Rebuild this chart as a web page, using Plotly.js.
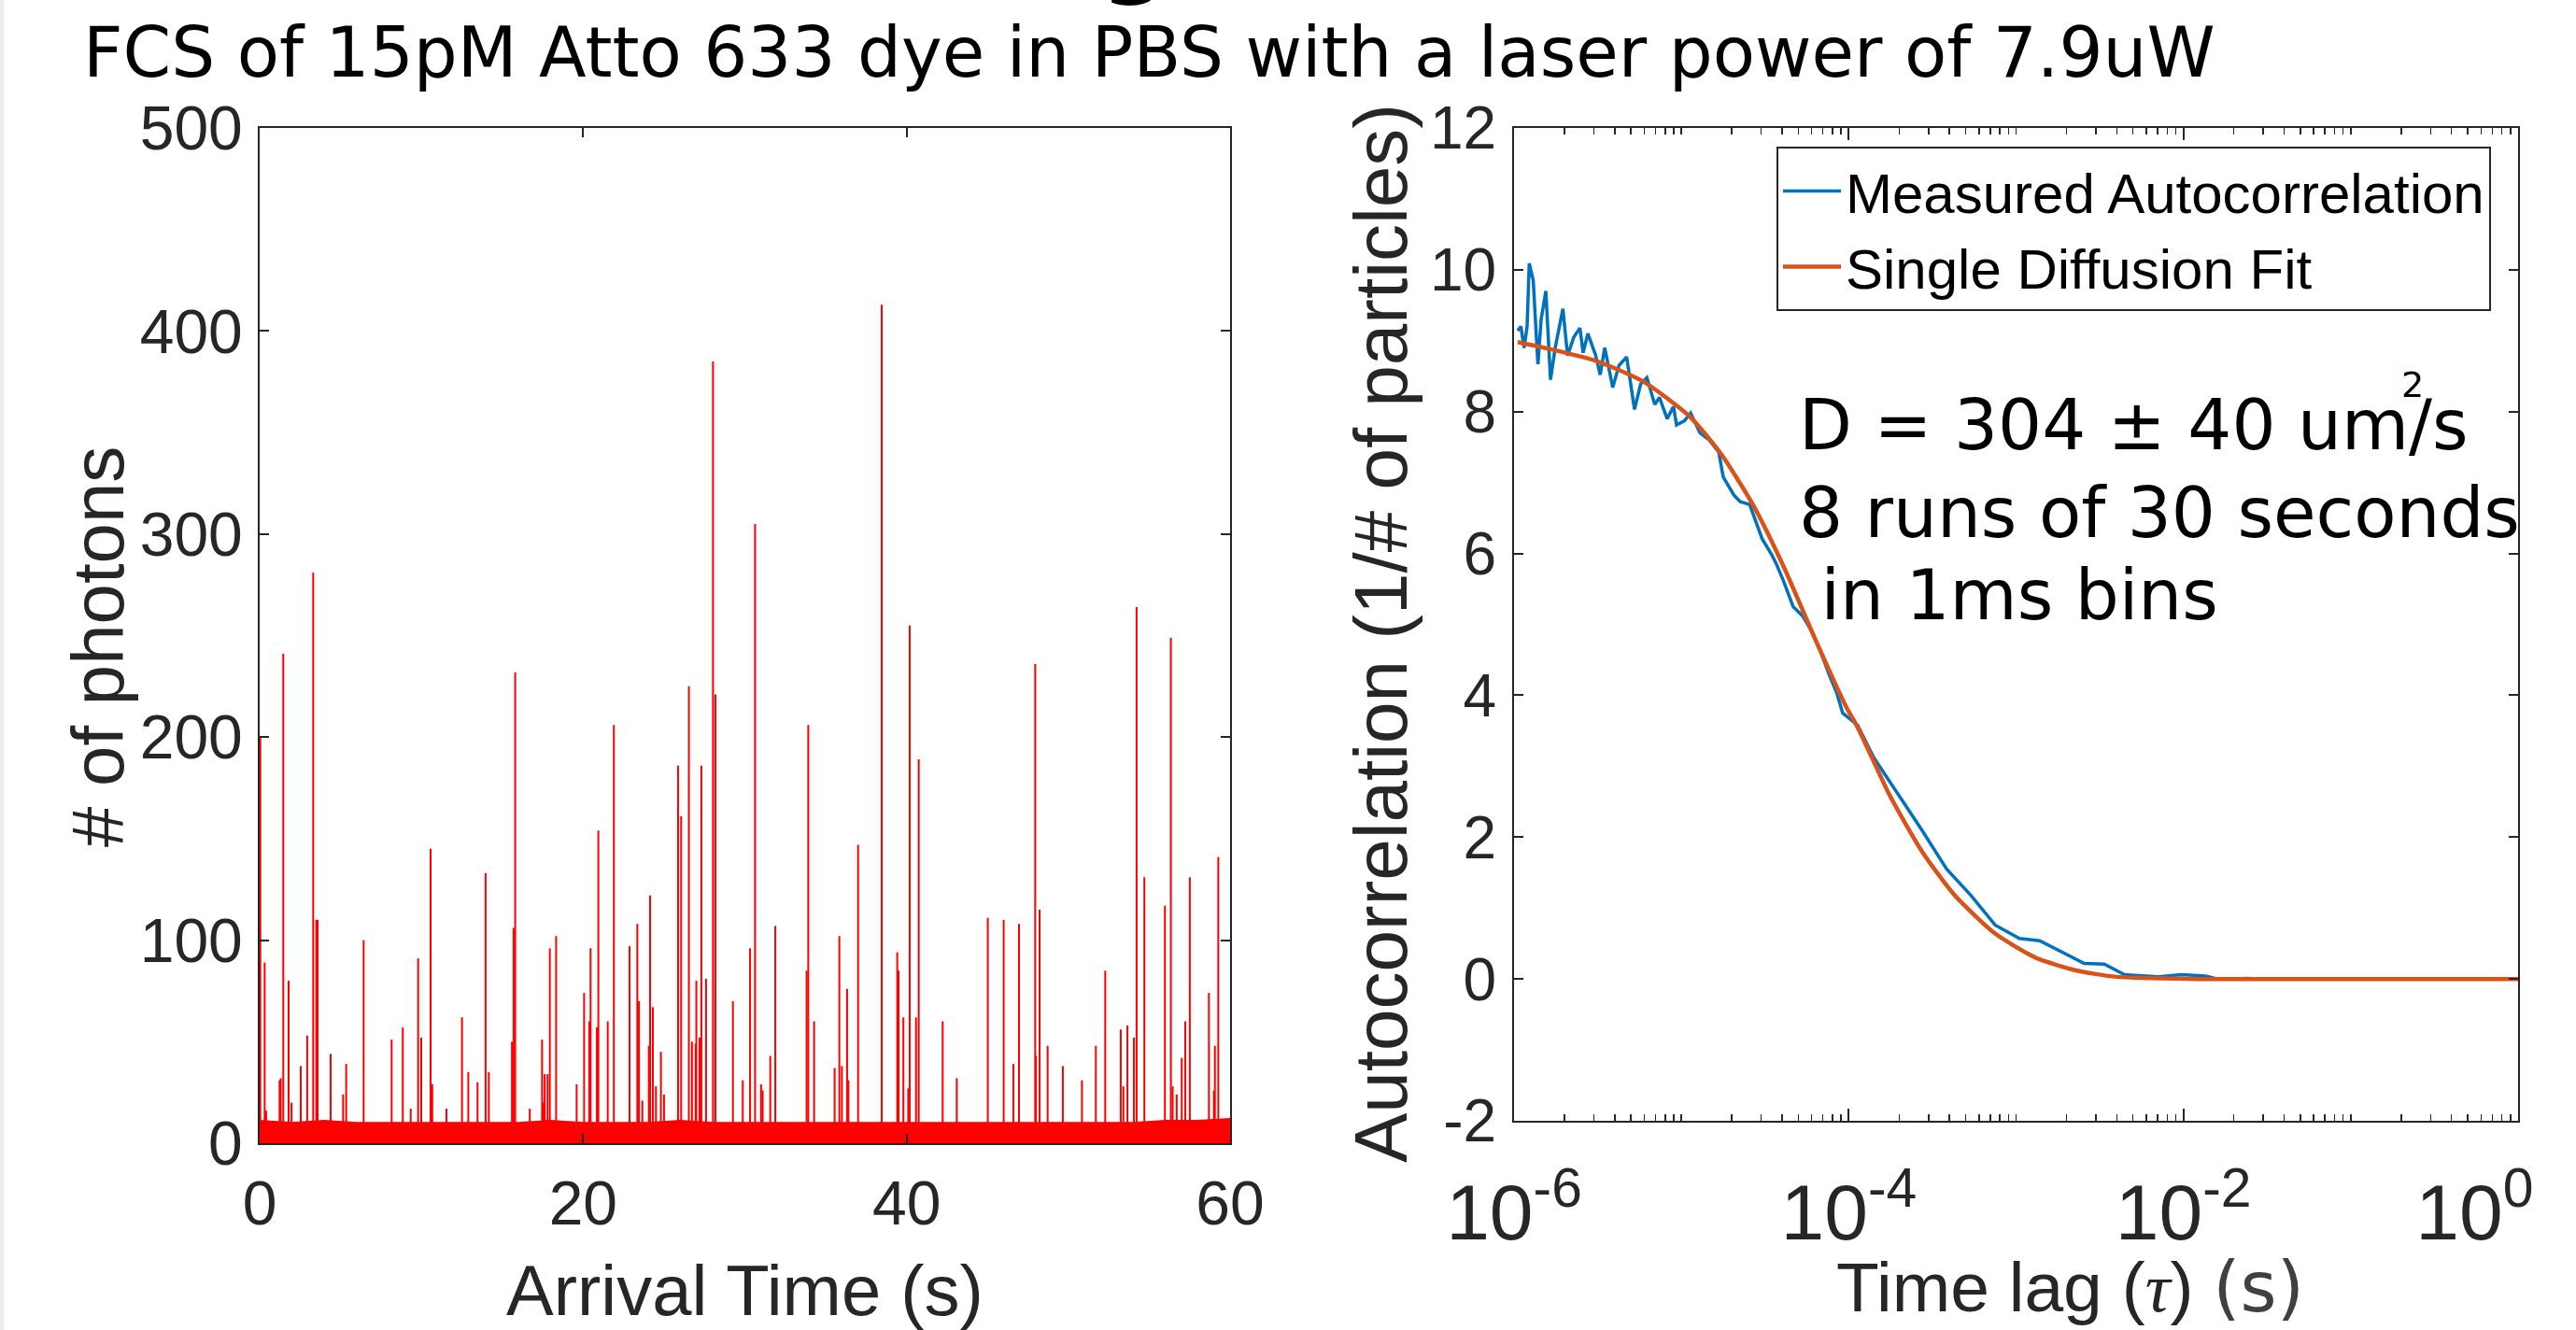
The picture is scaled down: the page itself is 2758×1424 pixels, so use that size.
<!DOCTYPE html>
<html><head><meta charset="utf-8">
<script src="https://cdn.plot.ly/plotly-3.0.1.min.js"></script>
<style>html,body{margin:0;padding:0;background:#fff;overflow:hidden;} #chart{width:2758px;height:1424px;}</style>
</head><body><div id="chart"></div>
<script>
// ---------- Left panel: photon arrival trace (1 ms bins) ----------
const spikeTimes = [0.04,0.31,0.40,1.23,1.30,1.46,1.79,1.97,2.54,2.94,3.31,3.50,3.58,4.39,5.16,5.35,6.43,8.16,8.85,9.34,9.80,9.99,10.57,10.67,11.55,12.51,12.90,13.47,13.97,14.17,15.60,15.70,15.80,16.70,17.46,17.55,17.62,17.80,17.94,18.33,19.60,20.06,20.38,20.46,20.85,20.94,21.52,21.90,22.87,23.35,23.45,23.66,24.06,24.14,24.31,24.50,24.81,25.00,25.87,26.06,26.54,26.73,26.95,27.00,27.20,27.31,27.60,28.03,28.18,29.26,29.87,30.32,30.63,31.00,31.10,31.57,31.88,33.82,33.92,34.28,35.55,35.84,36.00,36.32,36.40,37.00,38.46,39.42,39.50,39.80,40.10,40.19,40.58,40.75,42.23,43.10,45.02,46.00,46.60,46.95,47.95,48.00,48.22,48.72,49.66,50.84,51.70,52.28,53.24,53.40,53.65,54.05,54.22,54.70,55.97,56.34,56.45,56.70,57.01,57.23,57.51,58.69,59.00,59.06,59.27];
const spikeCounts = [200,89,16,31,32,241,80,20,38,53,281,110,110,44,24,39,100,51,57,17,91,52,145,29,17,62,35,30,133,35,50,106,232,17,51,20,34,34,96,102,29,74,60,96,57,154,60,206,97,108,70,21,48,122,67,28,45,24,186,161,225,50,49,80,52,186,81,385,221,70,31,96,305,29,26,43,107,85,206,60,37,102,38,76,31,147,413,94,85,62,27,255,62,189,60,32,111,110,39,108,236,43,115,48,38,31,48,85,56,28,58,52,264,131,117,249,28,24,42,60,131,74,26,48,141];
// background photon level (top of the dense band)
const bgTimes  = [0,2,4,6,8,10,12,14,16,18,20,22,24,26,28,30,32,34,36,38,40,42,44,46,48,50,52,54,56,58,60];
const bgCounts = [11,10,11,10,10,10,10,10,10,11,10,10,10,11,10,10,10,10,10,10,10,10,10,10,10,10,10,10,11,11,12];

// ---------- Right panel: autocorrelation ----------
const tauMeasured = [1.052e-6,1.099e-6,1.148e-6,1.197e-6,1.233e-6,1.303e-6,1.334e-6,1.390e-6,1.452e-6,1.549e-6,1.652e-6,1.762e-6,1.959e-6,2.089e-6,2.275e-6,2.477e-6,2.588e-6,2.761e-6,3.069e-6,3.273e-6,3.483e-6,3.890e-6,4.236e-6,4.710e-6,5.248e-6,5.715e-6,6.223e-6,6.934e-6,7.396e-6,8.222e-6,8.974e-6,9.354e-6,1.042e-5,1.135e-5,1.291e-5,1.466e-5,1.671e-5,1.778e-5,2.065e-5,2.249e-5,2.559e-5,3.034e-5,3.451e-5,3.681e-5,4.093e-5,4.656e-5,5.297e-5,6.026e-5,6.855e-5,7.638e-5,8.492e-5,9.2e-5,1.130e-4,1.413e-4,2.084e-4,2.754e-4,3.846e-4,5.370e-4,7.499e-4,1.047e-3,1.384e-3,2.042e-3,2.553e-3,3.365e-3,4.446e-3,6.950e-3,9.705e-3,1.355e-2,1.600e-2,2.495e-2];
const gMeasured = [9.14,9.2,8.9,9.2,10.09,9.85,9.4,8.67,9.3,9.7,8.45,8.9,9.45,8.79,9.05,9.18,8.83,9.1,8.8,8.52,8.9,8.34,8.65,8.77,8.03,8.39,8.48,8.1,8.2,7.9,8.07,7.81,7.87,7.98,7.7,7.6,7.43,7.08,6.82,6.73,6.69,6.21,5.99,5.86,5.6,5.25,5.12,4.9,4.59,4.29,4.03,3.75,3.58,3.12,2.52,2.09,1.55,1.18,0.76,0.57,0.54,0.33,0.22,0.21,0.06,0.03,0.06,0.04,0.0,0.01];
const tauFit = [1.052e-6,1.652e-6,3.141e-6,5.970e-6,1.135e-5,1.742e-5,2.673e-5,4.093e-5,6.281e-5,9.638e-5,1.130e-4,1.766e-4,2.754e-4,4.295e-4,7.499e-4,1.309e-3,2.280e-3,3.981e-3,1.211e-2,0.1,1];
const gFit = [8.98,8.88,8.71,8.42,7.92,7.39,6.69,5.81,4.80,3.84,3.55,2.58,1.79,1.18,0.64,0.30,0.12,0.03,0.0,0.0,0.0];

// ---------- Tick labels ----------
const leftXTicks = [0,20,40,60];
const leftYTicks = [0,100,200,300,400,500];
const rightXTicks = [1e-6,1e-4,1e-2,1];
const rightXTickText = ['10<sup>-6</sup>','10<sup>-4</sup>','10<sup>-2</sup>','10<sup>0</sup>\u00a0\u00a0\u00a0\u00a0'];
const rightYTicks = [-2,0,2,4,6,8,10,12];

// minor log ticks (decade sub-divisions)
const minorTicks = [];
for (let k = -6; k < 0; k++) {
  for (let m = 1; m <= 9; m++) {
    if (m === 1 && (k % 2 === 0)) continue;
    minorTicks.push(m * Math.pow(10, k));
  }
}

// spikes as vertical strokes from 0
const spX = [], spY = [];
spikeTimes.forEach((t, i) => { spX.push(t, t, null); spY.push(0, spikeCounts[i], null); });

const RED = '#FF0000', BLUE = '#0072BD', ORANGE = '#D95319', AX = '#262626';
const SANS = 'Liberation Sans, Arial, Helvetica, sans-serif';
const DJ = 'DejaVu Sans, sans-serif';

const traces = [
  {x: bgTimes, y: bgCounts, type: 'scatter', mode: 'lines', fill: 'tozeroy',
   fillcolor: RED, line: {color: RED, width: 2}, xaxis: 'x', yaxis: 'y', showlegend: false, hoverinfo: 'skip'},
  {x: spX, y: spY, type: 'scatter', mode: 'lines', line: {color: RED, width: 2},
   xaxis: 'x', yaxis: 'y', showlegend: false, connectgaps: false},
  {x: tauMeasured, y: gMeasured, type: 'scatter', mode: 'lines', name: 'Measured Autocorrelation',
   line: {color: BLUE, width: 3.5}, xaxis: 'x2', yaxis: 'y2'},
  {x: tauFit, y: gFit, type: 'scatter', mode: 'lines', name: 'Single Diffusion Fit',
   line: {color: ORANGE, width: 4.5, shape: 'spline', smoothing: 0.6}, xaxis: 'x2', yaxis: 'y2'}
];

const axisBase = {
  showline: true, linecolor: AX, linewidth: 2, mirror: 'ticks',
  ticks: 'inside', ticklen: 10, tickwidth: 2, tickcolor: AX,
  showgrid: false, zeroline: false, fixedrange: true,
  tickfont: {family: SANS, size: 66, color: AX}
};

const W = 2758, H = 1424;
const M = {l: 278, r: 62, t: 137, b: 200};
const PW = W - M.l - M.r, PH = H - M.t - M.b;
const px = X => (X - M.l) / PW;          // page x -> paper x
const py = Y => 1 - (Y - M.t) / PH;      // page y -> paper y
const NB = '\u00a0';

const layout = {
  width: W, height: H, margin: M,
  paper_bgcolor: '#ffffff', plot_bgcolor: '#ffffff',
  showlegend: true,
  title: {text: 'FCS of 15pM Atto 633 dye in PBS with a laser power of 7.9uW',
          font: {family: DJ, size: 74, color: '#000'},
          x: 89 / W, xanchor: 'left', xref: 'container',
          y: 1 - 56 / H, yanchor: 'middle', yref: 'container'},
  xaxis: Object.assign({}, axisBase, {
    domain: [0, px(1317)], range: [0, 60], tickmode: 'array', tickvals: leftXTicks,
    anchor: 'y', ticklabelstandoff: 6,
    title: {text: 'Arrival Time (s)', font: {family: SANS, size: 76, color: AX}, standoff: 56}
  }),
  yaxis: Object.assign({}, axisBase, {
    domain: [0, 1], range: [0, 500], tickmode: 'array', tickvals: leftYTicks,
    anchor: 'x', ticklabelstandoff: 3
  }),
  xaxis2: Object.assign({}, axisBase, {
    type: 'log', domain: [px(1621), 1], range: [-6, 0], anchor: 'y2',
    tickmode: 'array', tickvals: rightXTicks, ticktext: rightXTickText, ticklen: 13,
    tickfont: {family: SANS, size: 84, color: AX}, ticklabelstandoff: 24, ticklabeloverflow: 'allow',
    minor: {tickmode: 'array', tickvals: minorTicks, ticks: 'inside', ticklen: 7, tickwidth: 1.5, tickcolor: AX, showgrid: false}
  }),
  yaxis2: Object.assign({}, axisBase, {
    domain: [1 - (1200 - M.t) / PH, 1], range: [-2, 12], anchor: 'x2',
    tickmode: 'array', tickvals: rightYTicks, ticktext: rightYTicks.map(String),
    tickfont: {family: SANS, size: 64, color: AX}, ticklabelstandoff: 4
  }),
  legend: {x: px(1902), y: py(157), xanchor: 'left', yanchor: 'top', itemwidth: 62,
           bgcolor: '#ffffff', bordercolor: AX, borderwidth: 2,
           font: {family: SANS, size: 60, color: '#000'}},
  annotations: [
    // axis titles
    {text: '# of photons', xref: 'paper', yref: 'paper', x: px(105), y: py(693), textangle: -90,
     xanchor: 'center', yanchor: 'middle', showarrow: false, font: {family: SANS, size: 78, color: AX}},
    {text: 'Autocorrelation (1/# of particles)', xref: 'paper', yref: 'paper', x: px(1478), y: py(678), textangle: -90,
     xanchor: 'center', yanchor: 'middle', showarrow: false, font: {family: SANS, size: 80, color: AX}},
    {text: 'Time lag (<span style="font-family:Liberation Serif;font-style:italic">τ</span>) <span style="font-family:DejaVu Sans;color:#404040">(s)</span>',
     xref: 'paper', yref: 'paper', x: px(2216), y: py(1378),
     xanchor: 'center', yanchor: 'middle', showarrow: false, font: {family: SANS, size: 75, color: AX}},
    // fit annotation
    {text: 'D = 304 ± 40 um/s', xref: 'paper', yref: 'paper', x: px(1924), y: py(455),
     xanchor: 'left', yanchor: 'middle', showarrow: false, font: {family: DJ, size: 74, color: '#000'}},
    {text: '2', xref: 'paper', yref: 'paper', x: px(2583), y: py(412),
     xanchor: 'center', yanchor: 'middle', showarrow: false, font: {family: DJ, size: 38, color: '#000'}},
    {text: '8 runs of 30 seconds', xref: 'paper', yref: 'paper', x: px(1924), y: py(549),
     xanchor: 'left', yanchor: 'middle', showarrow: false, font: {family: DJ, size: 74, color: '#000'}},
    {text: NB + 'in 1ms bins', xref: 'paper', yref: 'paper', x: px(1924), y: py(637),
     xanchor: 'left', yanchor: 'middle', showarrow: false, font: {family: DJ, size: 74, color: '#000'}},
    // descender of a heading cropped at the top of the figure
    {text: '<b>g</b>', xref: 'paper', yref: 'paper', x: px(1215), y: py(-50),
     xanchor: 'center', yanchor: 'middle', showarrow: false, font: {family: DJ, size: 100, color: '#000'}}
  ],
  shapes: [
    {type: 'rect', xref: 'paper', yref: 'paper', x0: px(0), x1: px(4), y0: py(H), y1: py(0),
     fillcolor: '#e8edf1', line: {width: 0}, layer: 'below'}
  ]
};

Plotly.newPlot('chart', traces, layout, {displayModeBar: false, staticPlot: true});
</script>
</body></html>
